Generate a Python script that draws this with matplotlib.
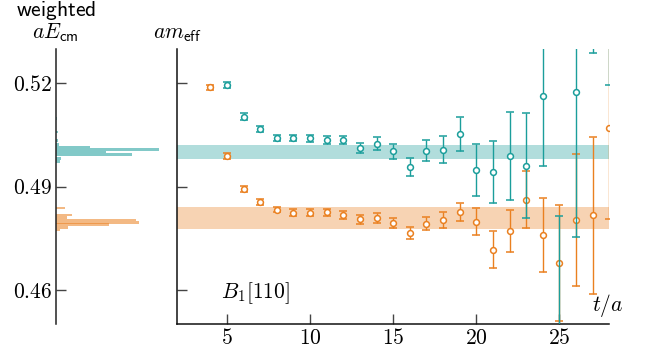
import matplotlib
matplotlib.use("Agg")
import matplotlib.pyplot as plt

plt.rcParams['mathtext.fontset'] = 'cm'
plt.rcParams['font.size'] = 15.5

# ---------------- data ----------------
t_orange = [4, 5, 6, 7, 8, 9, 10, 11, 12, 13, 14, 15, 16, 17, 18, 19, 20,
            21, 22, 23, 24, 25, 26, 27, 28]
m_orange = [0.5188, 0.4989, 0.4892, 0.4854, 0.4832, 0.4824, 0.4824, 0.4825,
            0.4817, 0.4805, 0.4808, 0.4794, 0.4764, 0.4792, 0.4803, 0.4825,
            0.4798, 0.4716, 0.4771, 0.4862, 0.4760, 0.4678, 0.4803, 0.4816,
            0.5070]
e_orange = [0.0008, 0.0008, 0.0008, 0.0009, 0.0007, 0.0010, 0.0010, 0.0011,
            0.0011, 0.0013, 0.0015, 0.0014, 0.0017, 0.0018, 0.0023, 0.0026,
            0.0039, 0.0054, 0.0062, 0.0082, 0.0108, 0.0169, 0.0192, 0.0228,
            0.0265]

t_teal = [5, 6, 7, 8, 9, 10, 11, 12, 13, 14, 15, 16, 17, 18, 19, 20, 21,
          22, 23, 24, 25, 26, 27, 28]
m_teal = [0.5195, 0.5103, 0.5067, 0.5040, 0.5040, 0.5040, 0.5036, 0.5036,
          0.5012, 0.5024, 0.5002, 0.4958, 0.5004, 0.5007, 0.5052, 0.4948,
          0.4942, 0.4989, 0.4960, 0.5164, 0.4400, 0.5174, 0.5600, 0.5550]
e_teal = [0.0008, 0.0010, 0.0009, 0.0009, 0.0009, 0.0010, 0.0012, 0.0011,
          0.0015, 0.0019, 0.0022, 0.0026, 0.0030, 0.0040, 0.0049, 0.0077,
          0.0089, 0.0128, 0.0153, 0.0203, 0.0415, 0.0420, 0.0311, 0.0354]

band_teal = (0.4979, 0.5022)
band_orange = (0.4777, 0.4839)

hist_teal_E = [0.5097, 0.5059, 0.5034, 0.5022, 0.50147, 0.50074, 0.50001,
               0.49929, 0.49824, 0.49737]
hist_teal_w = [1.0, 1.5, 2.0, 3.3, 34, 103, 50, 76, 5, 4]
hist_orange_E = [0.4837, 0.4817, 0.4810, 0.4803, 0.4796, 0.4789, 0.4781,
                 0.4773]
hist_orange_w = [9, 16, 11, 80, 83, 53, 12, 4]
hist_binh = 0.00078

yticks = [0.46, 0.49, 0.52]
ytick_labels = ['$0.46$', '$0.49$', '$0.52$']
xticks = [5, 10, 15, 20, 25]
xtick_labels = ['$5$', '$10$', '$15$', '$20$', '$25$']
ylim = (0.450, 0.530)
xlim = (2, 28)

teal = '#1b9e9b'
orange = '#ea8020'

# ---------------- figure ----------------
W, H = 652, 352
fig = plt.figure(figsize=(W / 100, H / 100), dpi=100)
axh = fig.add_axes([56 / W, 28 / H, 114 / W, 275 / H])
ax = fig.add_axes([177 / W, 28 / H, 432.3 / W, 275 / H])

# histogram panel
axh.barh(hist_teal_E, hist_teal_w, height=hist_binh, color=teal, alpha=0.55,
         linewidth=0)
axh.barh(hist_orange_E, hist_orange_w, height=hist_binh, color=orange,
         alpha=0.55, linewidth=0)
axh.set_ylim(*ylim)
axh.set_xlim(0, 114)
for s in ['top', 'right', 'bottom']:
    axh.spines[s].set_visible(False)
axh.spines['left'].set_linewidth(1.1)
axh.spines['left'].set_color('#222222')
axh.set_xticks([])
axh.set_yticks(yticks, labels=ytick_labels)
axh.tick_params(axis='y', direction='in', length=7, width=1.0,
                color='#444444', pad=3, labelsize=15.5)

# main panel
ax.axhspan(*band_teal, color=teal, alpha=0.34, linewidth=0, zorder=0)
ax.axhspan(*band_orange, color=orange, alpha=0.34, linewidth=0, zorder=0)
ax.errorbar(t_orange, m_orange, yerr=e_orange, fmt='o', ms=4.2, mfc='white',
            mec=orange, mew=1.1, color=orange, ecolor=orange, elinewidth=1.0,
            capsize=2.7, capthick=1.0, zorder=2)
ax.errorbar(t_teal, m_teal, yerr=e_teal, fmt='o', ms=4.2, mfc='white',
            mec=teal, mew=1.1, color=teal, ecolor=teal, elinewidth=1.0,
            capsize=2.7, capthick=1.0, zorder=3)
ax.set_xlim(*xlim)
ax.set_ylim(*ylim)
for s in ['top', 'right']:
    ax.spines[s].set_visible(False)
for s in ['left', 'bottom']:
    ax.spines[s].set_linewidth(1.1)
    ax.spines[s].set_color('#111111')
ax.set_yticks(yticks, labels=[])
ax.set_xticks(xticks, labels=xtick_labels)
ax.tick_params(axis='both', direction='in', length=7, width=1.0,
               color='#444444', labelsize=15.5)
ax.tick_params(axis='x', pad=3)

ax.text(0.102, 0.094, '$B_1[110]$', transform=ax.transAxes, ha='left',
        va='baseline', fontsize=15.5)
ax.text(1.032, 0.047, '$t/a$', transform=ax.transAxes, ha='right',
        va='baseline', fontsize=15.5, clip_on=False)

# column headers
fig.text(55.7 / W, 1 - 16 / H, r'$\mathsf{weighted}$', ha='center',
         va='baseline', fontsize=15.5)
fig.text(55.7 / W, 1 - 38.3 / H, r'$aE_{\mathsf{cm}}$', ha='center',
         va='baseline', fontsize=15.5)
fig.text(177 / W, 1 - 38.3 / H, r'$am_{\mathsf{eff}}$', ha='center',
         va='baseline', fontsize=15.5)

fig.savefig('out.png', dpi=100)
